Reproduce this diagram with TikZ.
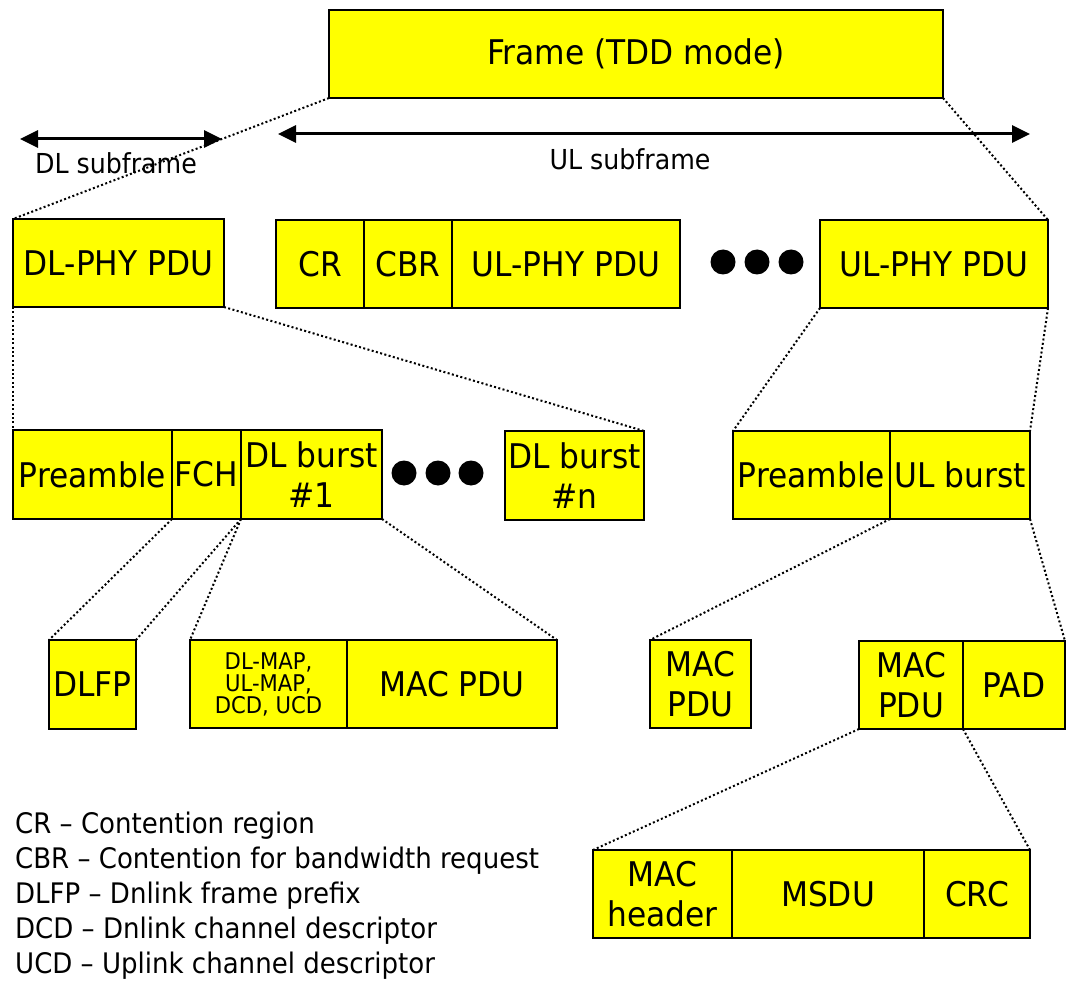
\documentclass[tikz,border=0pt]{standalone}
\usepackage{fontspec}
\setmainfont{DejaVu Sans}[FakeStretch=0.92]
\usetikzlibrary{arrows.meta}
\definecolor{cellyellow}{HTML}{FFFF00}

\begin{document}
\begin{tikzpicture}[x=1pt,y=-1pt,
  cell/.style={draw=black, line width=2.5pt, fill=cellyellow, inner sep=0pt,
    outer sep=0pt, anchor=north west, align=center,
    font=\fontsize{34}{40}\selectfont},
  smallcell/.style={cell, font=\fontsize{23}{22}\selectfont},
  zoomline/.style={line width=2pt, dash pattern=on 2pt off 2.4pt},
  span/.style={line width=3pt,
    {Triangle[length=18pt,width=17pt]}-{Triangle[length=18pt,width=17pt]}},
  bigdot/.style={circle, fill=black, inner sep=0pt, minimum size=25pt},
  caption/.style={font=\fontsize{27.5}{33}\selectfont, inner sep=0pt, anchor=base},
  legend/.style={font=\fontsize{28.3}{33}\selectfont, inner sep=0pt, anchor=base west}]

\useasboundingbox (0,0) rectangle (1070,981);

% top-level frame
\node[cell, minimum width=614pt, minimum height=88pt] (frame) at (329,10) {Frame (TDD mode)};

% subframe spans
\coordinate (dlL) at (20,139);
\coordinate (dlR) at (222,139);
\coordinate (ulL) at (278,134);
\coordinate (ulR) at (1030,134);
\draw[span] (dlL) -- (dlR);
\draw[span] (ulL) -- (ulR);
\node[caption] (dlcap) at (116,174) {DL subframe};
\node[caption] (ulcap) at (630,170) {UL subframe};

% PHY PDUs
\node[cell, minimum width=211pt, minimum height=88pt] (dlphy) at (13,219) {DL-PHY PDU};
\node[cell, minimum width=88pt, minimum height=88pt] (cr) at (276,220) {CR};
\node[cell, minimum width=88pt, minimum height=88pt] (cbr) at (364,220) {CBR};
\node[cell, minimum width=228pt, minimum height=88pt] (ulphyA) at (452,220) {UL-PHY PDU};
\node[bigdot] (d1) at (723,262) {};
\node[bigdot] (d2) at (757,262) {};
\node[bigdot] (d3) at (791,262) {};
\node[cell, minimum width=228pt, minimum height=88pt] (ulphyB) at (820,220) {UL-PHY PDU};

% downlink bursts
\node[cell, minimum width=159pt, minimum height=89pt] (preDL) at (13,430) {Preamble};
\node[cell, minimum width=69pt, minimum height=89pt] (fch) at (172,430) {FCH};
\node[cell, minimum width=141pt, minimum height=89pt] (dlb1) at (241,430) {DL burst\\\#1};
\node[bigdot] (d4) at (404,473) {};
\node[bigdot] (d5) at (438,473) {};
\node[bigdot] (d6) at (471,473) {};
\node[cell, minimum width=139pt, minimum height=89pt] (dlbn) at (505,431) {DL burst\\\#n};

% uplink burst
\node[cell, minimum width=157pt, minimum height=88pt] (preUL) at (733,431) {Preamble};
\node[cell, minimum width=140pt, minimum height=88pt] (ulb) at (890,431) {UL burst};

% MAC level
\node[cell, minimum width=87pt, minimum height=89pt] (dlfp) at (49,640) {DLFP};
\node[smallcell, minimum width=157pt, minimum height=88pt] (maps) at (190,640) {DL-MAP,\\UL-MAP,\\DCD, UCD};
\node[cell, minimum width=210pt, minimum height=88pt] (macA) at (347,640) {MAC PDU};
\node[cell, minimum width=101pt, minimum height=88pt] (macB) at (650,640) {MAC\\PDU};
\node[cell, minimum width=104pt, minimum height=88pt] (macC) at (859,641) {MAC\\PDU};
\node[cell, minimum width=102pt, minimum height=88pt] (pad) at (963,641) {PAD};

% MAC PDU contents
\node[cell, minimum width=139pt, minimum height=88pt] (machdr) at (593,850) {MAC\\header};
\node[cell, minimum width=192pt, minimum height=88pt] (msdu) at (732,850) {MSDU};
\node[cell, minimum width=106pt, minimum height=88pt] (crc) at (924,850) {CRC};

% zoom-in guide lines
\draw[zoomline] (frame.south west) -- (dlphy.north west);
\draw[zoomline] (frame.south east) -- (ulphyB.north east);
\draw[zoomline] (dlphy.south west) -- (preDL.north west);
\draw[zoomline] (dlphy.south east) -- (dlbn.north east);
\draw[zoomline] (ulphyB.south west) -- (preUL.north west);
\draw[zoomline] (ulphyB.south east) -- (ulb.north east);
\draw[zoomline] (preDL.south east) -- (dlfp.north west);
\draw[zoomline] (fch.south east) -- (dlfp.north east);
\draw[zoomline] (fch.south east) -- (maps.north west);
\draw[zoomline] (dlb1.south east) -- (macA.north east);
\draw[zoomline] (preUL.south east) -- (macB.north west);
\draw[zoomline] (ulb.south east) -- (pad.north east);
\draw[zoomline] (macC.south west) -- (machdr.north west);
\draw[zoomline] (macC.south east) -- (crc.north east);

% abbreviations
\node[legend] (leg1) at (15,833) {CR -- Contention region};
\node[legend] (leg2) at (15,868) {CBR -- Contention for bandwidth request};
\node[legend] (leg3) at (15,903) {DLFP -- Dnlink frame prefix};
\node[legend] (leg4) at (15,938) {DCD -- Dnlink channel descriptor};
\node[legend] (leg5) at (15,973) {UCD -- Uplink channel descriptor};
\end{tikzpicture}
\end{document}
